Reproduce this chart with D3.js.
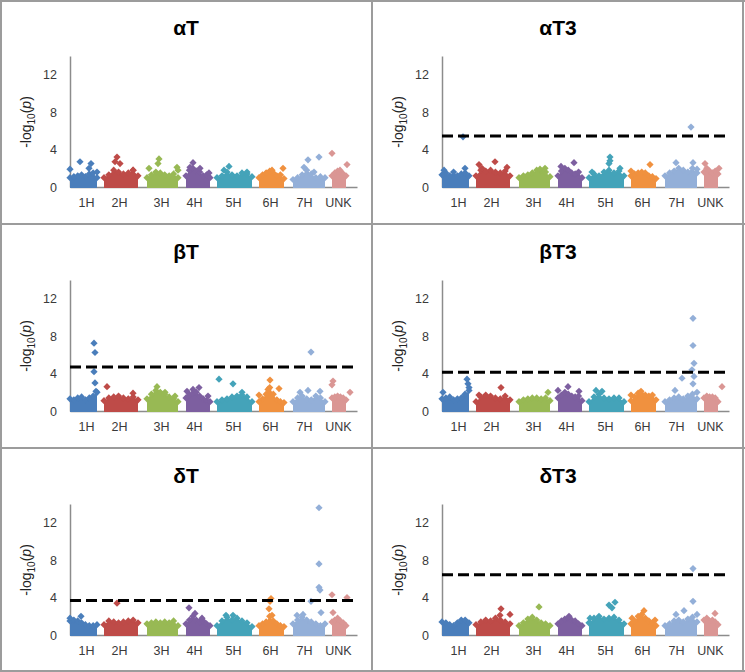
<!DOCTYPE html>
<html>
<head>
<meta charset="utf-8">
<script src="https://cdn.jsdelivr.net/npm/d3@7"></script>
<style>
    body { margin: 0; background: #fff; }
    svg { display: block; font-family: "Liberation Sans", Arial, sans-serif; }
</style>
</head>
<body>
<div class="svgContainer"></div>
<script>
// chromosomes along the cumulative map position
const chromosomes = ['1H', '2H', '3H', '4H', '5H', '6H', '7H', 'UNK'];
const chromStart = [0, 34, 77, 116, 147, 189, 223, 262];
const chromEnd = [27, 68, 108, 140, 182, 214, 255, 276];
const labelPos = [16, 49, 91, 124, 163, 200, 234, 268];
const colors = ['#4A7EBB', '#BE4B48', '#98B954', '#7D5FA0', '#44A3B9', '#F0913F', '#93AFD8', '#DA9694'];
const yTicks = [0, 4, 8, 12];

const traits = ['αT', 'αT3', 'βT', 'βT3', 'δT', 'δT3'];
const thresholds = [null, 5.45, 4.7, 4.15, 3.7, 6.45];

// upper edge of the dense marker cloud, sampled along each chromosome
const cloudAT = [
    [1.0, 1.1, 1.2, 1.3, 1.1, 1.4, 1.5, 1.0],
    [1.0, 1.3, 1.8, 1.6, 1.4, 1.5, 1.8, 1.2],
    [1.0, 1.3, 1.6, 1.5, 1.3, 1.2, 1.4, 1.0],
    [1.2, 1.8, 2.0, 1.7, 1.6, 1.2, 1.3, 1.0],
    [1.0, 1.2, 1.6, 1.3, 1.2, 1.5, 1.4, 1.1],
    [1.0, 1.3, 1.5, 1.7, 1.5, 1.2, 1.3, 0.9],
    [0.8, 1.0, 1.3, 1.8, 1.4, 1.0, 1.1, 1.0],
    [1.2, 1.5, 1.7, 1.6, 1.4, 1.2]
];
const cloudAT3 = [
    [1.3, 1.5, 1.2, 1.6, 1.2, 1.4, 1.5, 1.2],
    [1.2, 1.8, 1.7, 1.8, 1.6, 1.5, 1.7, 1.2],
    [1.0, 1.2, 1.3, 1.5, 1.8, 1.7, 1.6, 1.1],
    [1.2, 1.7, 2.0, 1.8, 1.5, 1.4, 1.6, 1.0],
    [1.0, 1.4, 1.2, 1.6, 1.8, 1.5, 1.7, 1.2],
    [1.2, 1.4, 1.5, 1.6, 1.5, 1.2, 1.1, 0.9],
    [1.2, 1.5, 1.7, 2.0, 1.8, 1.6, 2.0, 1.5],
    [1.6, 2.0, 1.7, 1.5, 1.7, 1.4]
];
const cloudBT = [
    [1.3, 1.2, 1.4, 1.5, 1.2, 1.4, 1.6, 2.0],
    [1.1, 1.4, 1.5, 1.6, 1.4, 1.3, 1.5, 1.2],
    [1.3, 1.8, 2.2, 2.0, 1.8, 1.5, 1.3, 1.0],
    [1.4, 1.7, 1.9, 2.0, 1.6, 1.3, 1.1, 1.0],
    [1.0, 1.2, 1.3, 1.5, 1.6, 1.7, 1.5, 1.0],
    [1.0, 1.3, 1.8, 2.5, 1.8, 1.2, 1.0, 0.9],
    [1.0, 1.4, 1.6, 1.3, 1.2, 1.6, 1.4, 1.0],
    [1.4, 1.5, 1.6, 1.5, 1.4, 1.2]
];
const cloudBT3 = [
    [1.3, 1.4, 1.5, 1.2, 1.3, 1.4, 1.7, 2.2],
    [1.0, 1.5, 1.7, 1.6, 1.4, 1.3, 1.6, 1.2],
    [1.0, 1.2, 1.3, 1.4, 1.4, 1.3, 1.4, 1.1],
    [1.4, 1.7, 2.0, 1.8, 1.6, 1.5, 1.6, 1.1],
    [1.0, 1.5, 1.8, 1.4, 1.3, 1.4, 1.4, 1.0],
    [1.1, 1.5, 1.9, 1.8, 1.7, 1.6, 1.7, 1.2],
    [1.0, 1.2, 1.4, 1.5, 1.3, 1.6, 1.8, 1.3],
    [1.4, 1.6, 1.5, 1.5, 1.4, 1.0]
];
const cloudDT = [
    [1.5, 1.6, 1.5, 1.3, 1.1, 1.0, 1.0, 1.1],
    [1.1, 1.5, 1.4, 1.3, 1.4, 1.5, 1.6, 1.3],
    [1.2, 1.3, 1.4, 1.3, 1.4, 1.3, 1.5, 1.0],
    [1.2, 1.6, 2.0, 1.6, 1.4, 1.5, 1.2, 1.0],
    [1.0, 1.5, 1.9, 1.6, 1.8, 1.5, 1.3, 0.9],
    [1.0, 1.2, 1.4, 2.0, 1.5, 1.2, 1.0, 0.9],
    [1.2, 1.6, 1.9, 1.6, 1.4, 1.2, 1.0, 1.2],
    [1.4, 1.6, 1.8, 1.5, 1.3, 1.0]
];
const cloudDT3 = [
    [1.4, 1.3, 1.1, 1.0, 1.3, 1.6, 1.6, 1.3],
    [1.1, 1.4, 1.6, 1.5, 1.8, 1.6, 1.4, 1.2],
    [1.0, 1.3, 1.7, 1.9, 1.6, 1.3, 1.2, 1.0],
    [1.2, 1.5, 1.7, 1.8, 1.6, 1.5, 1.2, 1.0],
    [1.3, 1.8, 2.0, 1.7, 1.8, 1.9, 1.6, 1.2],
    [1.2, 1.5, 2.0, 2.2, 1.8, 1.5, 1.3, 1.0],
    [1.0, 1.2, 1.5, 1.6, 1.4, 1.7, 1.9, 1.4],
    [1.6, 1.8, 1.5, 1.6, 1.4, 1.1]
];

// markers standing out of the cloud: [chromosome index, position, -log10(p)]
const hitsAT = [
    [0, 0, 1.9], [0, 10, 2.7], [0, 21, 2.5], [0, 19, 2.0], [0, 27, 1.6],
    [1, 47, 3.2], [1, 45, 2.7], [1, 50, 2.5], [1, 63, 1.8],
    [2, 79, 2.0], [2, 89, 3.0], [2, 88, 2.5], [2, 107, 2.1], [2, 108, 1.8],
    [3, 123, 2.6], [3, 120, 2.1], [3, 130, 2.0], [3, 139, 1.5],
    [4, 159, 2.2], [4, 154, 1.8], [4, 177, 1.6],
    [5, 213, 2.0], [5, 202, 1.8],
    [6, 238, 2.9], [6, 249, 3.2], [6, 234, 2.1], [6, 244, 1.6],
    [7, 262, 3.6], [7, 277, 2.4], [7, 270, 1.8]
];
const hitsAT3 = [
    [0, 21, 5.36], [0, 23, 2.0], [0, 2, 1.8],
    [1, 37, 2.4], [1, 53, 2.7], [1, 65, 2.1], [1, 40, 2.0],
    [2, 103, 2.0], [2, 98, 1.9],
    [3, 132, 2.6], [3, 119, 2.2],
    [4, 168, 3.2], [4, 168, 2.8], [4, 167, 2.5], [4, 150, 1.6], [4, 178, 2.0],
    [5, 189, 1.7], [5, 208, 2.4],
    [6, 249, 6.4], [6, 234, 2.6], [6, 251, 2.6], [6, 255, 1.9],
    [7, 263, 2.5], [7, 277, 2.0]
];
const hitsBT = [
    [0, 24, 7.25], [0, 25, 6.25], [0, 24, 4.2], [0, 25, 3.0], [0, 26, 2.1],
    [1, 37, 2.6], [1, 63, 1.9],
    [2, 87, 2.6], [2, 95, 2.0], [2, 105, 1.6],
    [3, 129, 2.5], [3, 123, 2.3], [3, 117, 2.1], [3, 138, 1.6],
    [4, 149, 3.4], [4, 163, 2.9], [4, 172, 2.0],
    [5, 200, 3.3], [5, 198, 2.3], [5, 209, 2.4], [5, 189, 1.7],
    [6, 241, 6.3], [6, 238, 2.2], [6, 230, 2.0], [6, 250, 2.1],
    [7, 263, 3.2], [7, 262, 2.8], [7, 280, 2.0]
];
const hitsBT3 = [
    [0, 25, 3.4], [0, 26, 2.9], [0, 27, 2.5], [0, 23, 1.8], [0, 1, 2.0],
    [1, 59, 2.5], [1, 37, 1.7],
    [2, 106, 2.0],
    [3, 126, 2.6], [3, 116, 2.2], [3, 137, 2.1],
    [4, 154, 2.2], [4, 160, 2.1],
    [5, 189, 1.7], [5, 199, 2.1],
    [6, 251, 9.9], [6, 251, 7.0], [6, 252, 5.1], [6, 250, 4.4], [6, 252, 3.7],
    [6, 251, 2.9], [6, 240, 3.5], [6, 233, 2.2], [6, 255, 2.0],
    [7, 280, 2.6]
];
const hitsDT = [
    [0, 0, 1.8], [0, 11, 2.0],
    [1, 47, 3.4],
    [3, 119, 2.9], [3, 125, 2.3], [3, 132, 1.8],
    [4, 156, 2.1], [4, 163, 2.1],
    [5, 201, 3.9], [5, 200, 3.6], [5, 199, 2.8], [5, 202, 2.1],
    [6, 249, 13.6], [6, 249, 7.6], [6, 249, 5.1], [6, 250, 4.8], [6, 241, 3.6],
    [6, 251, 2.4], [6, 233, 2.2], [6, 227, 2.1],
    [7, 262, 4.3], [7, 277, 4.0], [7, 263, 2.4]
];
const hitsDT3 = [
    [1, 59, 2.8], [1, 58, 2.1], [1, 68, 2.2],
    [2, 97, 3.0],
    [3, 127, 2.0],
    [4, 173, 3.5], [4, 167, 3.2], [4, 170, 2.9], [4, 148, 1.8],
    [5, 202, 2.6], [5, 190, 1.8], [5, 213, 1.6],
    [6, 251, 7.1], [6, 251, 3.6], [6, 242, 2.6], [6, 234, 2.2], [6, 255, 2.2],
    [7, 273, 2.3]
];

const clouds = [cloudAT, cloudAT3, cloudBT, cloudBT3, cloudDT, cloudDT3];
const hits = [hitsAT, hitsAT3, hitsBT, hitsBT3, hitsDT, hitsDT3];

const width = 745;
const height = 672;
const panelWidth = 372;
const panelHeight = 224;
const margin = { top: 56, right: 15, bottom: 37, left: 70 };

// square diamond marker, like the spreadsheet one
const diamond = {
    draw: function(context, size) {
        let r = Math.sqrt(size / 2);
        context.moveTo(0, -r);
        context.lineTo(r, 0);
        context.lineTo(0, r);
        context.lineTo(-r, 0);
        context.closePath();
    }
};
const marker = d3.symbol().type(diamond).size(26);

let svg = d3.select('.svgContainer')
    .append('svg')
    .attr('width', width)
    .attr('height', height);

traits.forEach(function(trait, i) {
    let g = svg.append('g')
        .attr('transform', 'translate(' + (i % 2) * panelWidth + ',' + Math.floor(i / 2) * panelHeight + ')');
    drawPanel(g, trait, clouds[i], hits[i], thresholds[i]);
});

// grey frame around the panels
let frame = svg.append('g')
    .attr('stroke', '#9c9c9c')
    .attr('stroke-width', 2);
[1, 372, 743].forEach(function(xv) {
    frame.append('line').attr('x1', xv).attr('x2', xv).attr('y1', 0).attr('y2', height);
});
[1, 224, 448, 671].forEach(function(yv) {
    frame.append('line').attr('x1', 0).attr('x2', width).attr('y1', yv).attr('y2', yv);
});

function drawPanel(g, trait, cloud, hitList, threshold) {

    let x = d3.scaleLinear().domain([0, 287]).range([margin.left, panelWidth - margin.right]);
    let y = d3.scaleLinear().domain([0, 14]).range([panelHeight - margin.bottom, margin.top]);

    // title
    g.append('text')
        .attr('x', panelWidth / 2)
        .attr('y', 35)
        .attr('text-anchor', 'middle')
        .attr('font-size', 21)
        .attr('font-weight', 'bold')
        .text(trait);

    // axes
    let yAxis = g.append('g')
        .attr('transform', 'translate(' + margin.left + ',0)')
        .call(d3.axisLeft(y).tickValues(yTicks).tickSize(0).tickSizeOuter(0).tickPadding(13));
    let xAxis = g.append('g')
        .attr('transform', 'translate(0,' + y(0) + ')')
        .call(d3.axisBottom(x).tickValues(labelPos).tickSize(0).tickSizeOuter(0).tickPadding(11)
            .tickFormat(function(d, k) { return chromosomes[k]; }));
    [yAxis, xAxis].forEach(function(axis) {
        axis.select('.domain').attr('stroke', '#8c8c8c').attr('stroke-width', 1.5);
        axis.selectAll('text')
            .attr('font-size', 12.5)
            .attr('font-family', '"Liberation Sans", Arial, sans-serif')
            .attr('fill', '#3a3a3a');
    });

    // y axis label
    let label = g.append('text')
        .attr('transform', 'translate(31,' + 122 + ') rotate(-90)')
        .attr('text-anchor', 'middle')
        .attr('font-size', 14)
        .attr('fill', '#222');
    label.append('tspan').text('-log');
    label.append('tspan').attr('font-size', 10).attr('dy', 4).text('10');
    label.append('tspan').attr('dy', -4).text('(');
    label.append('tspan').attr('font-style', 'italic').text('p');
    label.append('tspan').text(')');

    // dense clouds of markers
    cloud.forEach(function(values, c) {
        let cx = d3.scaleLinear().domain([0, values.length - 1]).range([chromStart[c], chromEnd[c]]);
        let area = d3.area()
            .x(function(d, k) { return x(cx(k)); })
            .y0(y(0) + 1)
            .y1(function(d) { return y(d); });

        g.append('path')
            .datum(values)
            .attr('fill', colors[c])
            .attr('d', area);

        g.selectAll(null)
            .data(values)
            .enter()
            .append('path')
            .attr('fill', colors[c])
            .attr('transform', function(d, k) { return 'translate(' + x(cx(k)) + ',' + y(d) + ')'; })
            .attr('d', marker);
    });

    // single markers
    g.selectAll(null)
        .data(hitList)
        .enter()
        .append('path')
        .attr('fill', function(d) { return colors[d[0]]; })
        .attr('transform', function(d) { return 'translate(' + x(d[1]) + ',' + y(d[2]) + ')'; })
        .attr('d', marker);

    // significance threshold
    if (threshold !== null) {
        g.append('line')
            .attr('x1', x(0))
            .attr('x2', x(288))
            .attr('y1', y(threshold))
            .attr('y2', y(threshold))
            .attr('stroke', '#000')
            .attr('stroke-width', 3)
            .attr('stroke-dasharray', '11,5');
    }
}
</script>
</body>
</html>
